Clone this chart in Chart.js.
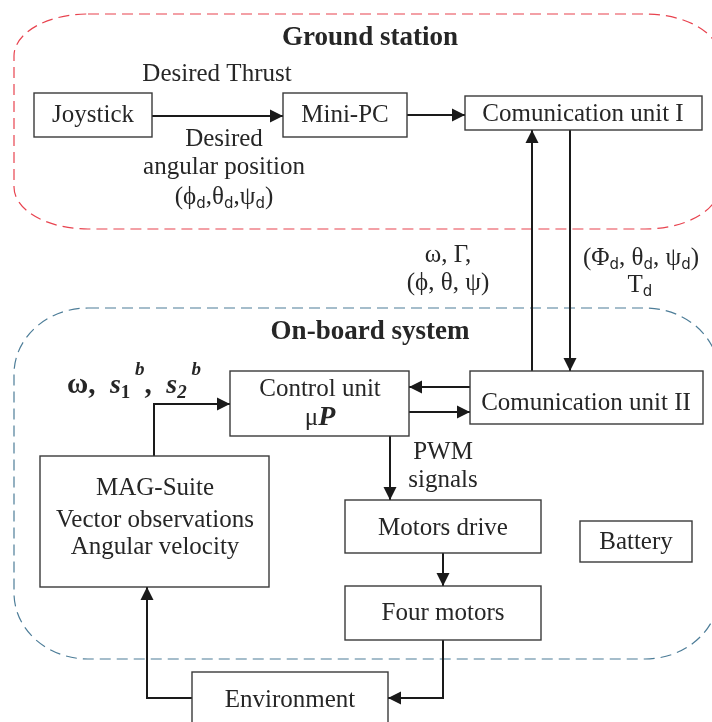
<!DOCTYPE html>
<html lang="en">
<head>
    <meta charset="UTF-8">
    <title>Ground station / On-board system</title>
    <script src="https://cdn.jsdelivr.net/npm/chart.js"></script>
    <style>
        body { margin: 0; padding: 0; background: #ffffff; }
        #diagram { display: block; }
    </style>
</head>
<body>
    <canvas id="diagram" width="712" height="722"></canvas>
    <script>
        // diagram units = picture pixels, y grows downward
        const regions = [
            { name: 'ground', x0: 14, y0: 14, x1: 719, y1: 229, rx: 74, ry: 42, color: '#e8434f' },
            { name: 'onboard', x0: 14, y0: 308, x1: 719, y1: 659, rx: 74, ry: 66, color: '#4d7d98' }
        ];
        const boxes = [
            [34, 93, 152, 137],     // Joystick
            [283, 93, 407, 137],    // Mini-PC
            [465, 96, 702, 130],    // Comunication unit I
            [230, 371, 409, 436],   // Control unit
            [470, 371, 703, 424],   // Comunication unit II
            [40, 456, 269, 587],    // MAG-Suite
            [345, 500, 541, 553],   // Motors drive
            [345, 586, 541, 640],   // Four motors
            [580, 521, 692, 562],   // Battery
            [192, 672, 388, 732]    // Environment
        ];
        const connectors = [
            [[152, 116], [283, 116]],
            [[407, 115], [465, 115]],
            [[532, 371], [532, 130]],
            [[570, 130], [570, 371]],
            [[470, 387], [409, 387]],
            [[409, 412], [470, 412]],
            [[154, 456], [154, 404], [230, 404]],
            [[390, 436], [390, 500]],
            [[443, 553], [443, 586]],
            [[443, 640], [443, 698], [388, 698]],
            [[192, 698], [147, 698], [147, 587]]
        ];
        // [x, y, segments]; segment = [text, style]
        const labels = [
            [370, 38, [['Ground station', 'b']]],
            [217, 74, [['Desired Thrust']]],
            [93, 115, [['Joystick']]],
            [345, 115, [['Mini-PC']]],
            [583, 114, [['Comunication unit I']]],
            [224, 139, [['Desired']]],
            [224, 167, [['angular position']]],
            [224, 197, [['(\u03d5'], ['d', 'sub'], [',\u03b8'], ['d', 'sub'], [',\u03c8'], ['d', 'sub'], [')']]],
            [448, 255, [['\u03c9, \u0393,']]],
            [448, 283, [['(\u03d5, \u03b8, \u03c8)']]],
            [641, 258, [['(\u03a6'], ['d', 'sub'], [', \u03b8'], ['d', 'sub'], [', \u03c8'], ['d', 'sub'], [')']]],
            [640, 285, [['T'], ['d', 'sub']]],
            [370, 332, [['On-board system', 'b']]],
            [134, 386, [['\u03c9,  ', 'bbig'], ['s', 'bi'], ['1', 'bsub'], [' ', 'bsub'], ['b', 'bisup'], [',  ', 'bbig'], ['s', 'bi'], ['2', 'bisub'], [' ', 'bsub'], ['b', 'bisup']]],
            [320, 389, [['Control unit']]],
            [320, 418, [['\u03bc'], ['P', 'bi']]],
            [586, 403, [['Comunication unit II']]],
            [443, 452, [['PWM']]],
            [443, 480, [['signals']]],
            [155, 488, [['MAG-Suite']]],
            [155, 520, [['Vector observations']]],
            [155, 547, [['Angular velocity']]],
            [443, 528, [['Motors drive']]],
            [443, 613, [['Four motors']]],
            [636, 542, [['Battery']]],
            [290, 700, [['Environment']]]
        ];

        const SERIF = "'Liberation Serif', 'DejaVu Serif', serif";
        const styles = {
            r: { font: '25px ' + SERIF, dy: 0 },
            b: { font: 'bold 27px ' + SERIF, dy: 0 },
            bbig: { font: 'bold 29px ' + SERIF, dy: 0 },
            bi: { font: 'italic bold 28px ' + SERIF, dy: 0 },
            sub: { font: '15px "DejaVu Sans", sans-serif', dy: 7 },
            bsub: { font: 'bold 19px ' + SERIF, dy: 7 },
            bisub: { font: 'italic bold 19px ' + SERIF, dy: 7 },
            bisup: { font: 'italic bold 19px ' + SERIF, dy: -16 }
        };

        function ellipseRect(ctx, x0, y0, x1, y1, rx, ry) {
            ctx.beginPath();
            ctx.moveTo(x0 + rx, y0);
            ctx.lineTo(x1 - rx, y0);
            ctx.ellipse(x1 - rx, y0 + ry, rx, ry, 0, -Math.PI / 2, 0);
            ctx.lineTo(x1, y1 - ry);
            ctx.ellipse(x1 - rx, y1 - ry, rx, ry, 0, 0, Math.PI / 2);
            ctx.lineTo(x0 + rx, y1);
            ctx.ellipse(x0 + rx, y1 - ry, rx, ry, 0, Math.PI / 2, Math.PI);
            ctx.lineTo(x0, y0 + ry);
            ctx.ellipse(x0 + rx, y0 + ry, rx, ry, 0, Math.PI, Math.PI * 1.5);
            ctx.closePath();
        }

        const diagramPlugin = {
            id: 'diagram',
            beforeDatasetsDraw(chart) {
                const { ctx, scales: { x, y } } = chart;
                ctx.save();
                ctx.lineWidth = 1.2;
                ctx.setLineDash([11, 6]);
                regions.forEach(r => {
                    const px0 = x.getPixelForValue(r.x0), px1 = x.getPixelForValue(r.x1);
                    const py0 = y.getPixelForValue(r.y0), py1 = y.getPixelForValue(r.y1);
                    ctx.strokeStyle = r.color;
                    ellipseRect(ctx, px0, py0, px1, py1, r.rx, r.ry);
                    ctx.stroke();
                });
                ctx.restore();
            },
            afterDatasetsDraw(chart) {
                const { ctx, scales: { x, y } } = chart;
                ctx.save();
                // boxes
                ctx.strokeStyle = '#3a3a3a';
                ctx.lineWidth = 1.4;
                ctx.fillStyle = '#ffffff';
                boxes.forEach(b => {
                    const px0 = x.getPixelForValue(b[0]), px1 = x.getPixelForValue(b[2]);
                    const py0 = y.getPixelForValue(b[1]), py1 = y.getPixelForValue(b[3]);
                    ctx.fillRect(px0, py0, px1 - px0, py1 - py0);
                    ctx.strokeRect(px0, py0, px1 - px0, py1 - py0);
                });
                // arrow heads at the end of each connector
                ctx.fillStyle = '#1a1a1a';
                connectors.forEach(c => {
                    const a = c[c.length - 2], e = c[c.length - 1];
                    const ex = x.getPixelForValue(e[0]), ey = y.getPixelForValue(e[1]);
                    const ang = Math.atan2(ey - y.getPixelForValue(a[1]), ex - x.getPixelForValue(a[0]));
                    const len = 13, half = 6.5;
                    ctx.beginPath();
                    ctx.moveTo(ex, ey);
                    ctx.lineTo(ex - len * Math.cos(ang) + half * Math.sin(ang), ey - len * Math.sin(ang) - half * Math.cos(ang));
                    ctx.lineTo(ex - len * Math.cos(ang) - half * Math.sin(ang), ey - len * Math.sin(ang) + half * Math.cos(ang));
                    ctx.closePath();
                    ctx.fill();
                });
                // texts
                ctx.fillStyle = '#262626';
                ctx.textBaseline = 'middle';
                ctx.textAlign = 'left';
                labels.forEach(([lx, ly, segs]) => {
                    let total = 0;
                    segs.forEach(s => {
                        ctx.font = styles[s[1] || 'r'].font;
                        total += ctx.measureText(s[0]).width;
                    });
                    let cx = x.getPixelForValue(lx) - total / 2;
                    const cy = y.getPixelForValue(ly);
                    segs.forEach(s => {
                        const st = styles[s[1] || 'r'];
                        ctx.font = st.font;
                        ctx.fillText(s[0], cx, cy + st.dy);
                        cx += ctx.measureText(s[0]).width;
                    });
                });
                ctx.restore();
            }
        };

        new Chart(document.getElementById('diagram').getContext('2d'), {
            type: 'scatter',
            data: {
                datasets: connectors.map(c => ({
                    data: c.map(p => ({ x: p[0], y: p[1] })),
                    showLine: true,
                    borderColor: '#1a1a1a',
                    borderWidth: 2,
                    pointRadius: 0,
                    tension: 0
                }))
            },
            options: {
                responsive: false,
                animation: false,
                layout: { padding: 0 },
                plugins: { legend: { display: false }, tooltip: { enabled: false } },
                scales: {
                    x: { type: 'linear', min: 0, max: 712, display: false },
                    y: { type: 'linear', min: 0, max: 722, reverse: true, display: false }
                }
            },
            plugins: [diagramPlugin]
        });
    </script>
</body>
</html>
